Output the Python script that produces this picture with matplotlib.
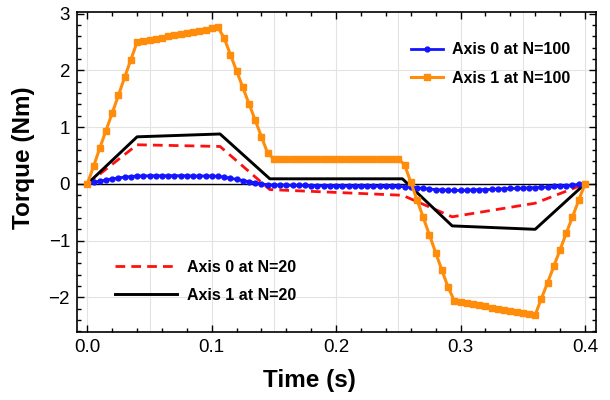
import numpy as np
import matplotlib
matplotlib.use("Agg")
import matplotlib.pyplot as plt
from matplotlib.ticker import MultipleLocator

plt.rcParams["font.family"] = ["Liberation Sans", "DejaVu Sans"]

# N=100 runs, sampled every 0.005 s
t_100 = np.linspace(0.0, 0.4, 81)
axis0_n100 = [
    0.0, 0.025, 0.05, 0.07, 0.09, 0.105, 0.12, 0.13, 0.14,
    0.14, 0.145, 0.145, 0.145, 0.145, 0.145, 0.145, 0.145, 0.14, 0.14, 0.14, 0.14, 0.135,
    0.12, 0.10, 0.08, 0.06, 0.04, 0.02, 0.0, -0.015,
    -0.02, -0.02, -0.02, -0.025, -0.025, -0.025, -0.03, -0.03, -0.03, -0.03, -0.035,
    -0.035, -0.035, -0.035, -0.04, -0.04, -0.04, -0.04, -0.045, -0.045, -0.045,
    -0.05, -0.06, -0.07, -0.08, -0.09, -0.10, -0.105, -0.11, -0.115,
    -0.115, -0.11, -0.105, -0.10, -0.10, -0.095, -0.09, -0.085, -0.08, -0.08, -0.075, -0.07, -0.065,
    -0.06, -0.055, -0.045, -0.04, -0.03, -0.02, -0.01, 0.0,
]
axis1_n100 = [
    0.0, 0.31, 0.63, 0.94, 1.25, 1.56, 1.88, 2.19, 2.50,
    2.52, 2.54, 2.56, 2.58, 2.60, 2.62, 2.64, 2.66, 2.68, 2.70, 2.72, 2.74, 2.76,
    2.57, 2.28, 1.99, 1.70, 1.41, 1.12, 0.83, 0.54,
    0.44, 0.44, 0.44, 0.44, 0.44, 0.44, 0.44, 0.44, 0.44, 0.44, 0.44,
    0.44, 0.44, 0.44, 0.44, 0.44, 0.44, 0.44, 0.44, 0.44, 0.44,
    0.34, 0.03, -0.28, -0.59, -0.90, -1.21, -1.52, -1.82, -2.06,
    -2.08, -2.10, -2.12, -2.14, -2.16, -2.18, -2.20, -2.22, -2.24, -2.26, -2.28, -2.30, -2.31,
    -2.02, -1.74, -1.45, -1.16, -0.87, -0.58, -0.29, 0.0,
]

# N=20 runs
t_20 = [0.0, 0.04, 0.1067, 0.1467, 0.2533, 0.2933, 0.36, 0.4]
axis0_n20 = [0.0, 0.69, 0.66, -0.10, -0.20, -0.58, -0.34, 0.0]
axis1_n20 = [0.0, 0.83, 0.88, 0.09, 0.09, -0.74, -0.80, 0.0]

fig = plt.figure(figsize=(6.1, 4.0), dpi=100)
ax = fig.add_axes([77 / 610, 1 - 332 / 400, 518.5 / 610, 320 / 400])

# light grid
for gx in np.arange(0.0, 0.41, 0.05):
    ax.axvline(gx, color="#e3e3e3", lw=0.8, zorder=0)
for gy in [-2, -1, 1, 2]:
    ax.axhline(gy, color="#e3e3e3", lw=0.8, zorder=0)
ax.axhline(0, color="black", lw=1.0, zorder=1.5)

l_red, = ax.plot(t_20, axis0_n20, color="#ff1010", lw=2.0, dashes=(3.5, 2.2),
                 label="Axis 0 at N=20", zorder=2)
l_blk, = ax.plot(t_20, axis1_n20, color="black", lw=2.1,
                 label="Axis 1 at N=20", zorder=2.1)
l_blue, = ax.plot(t_100, axis0_n100, color="#1414ff", lw=2.0, marker="o", ms=3.5,
                  label="Axis 0 at N=100", zorder=2.2)
l_orng, = ax.plot(t_100, axis1_n100, color="#ff8c0a", lw=2.2, marker="s", ms=4,
                  label="Axis 1 at N=100", zorder=2.3)

ax.set_xlim(-0.0083, 0.4085)
ax.set_ylim(-2.61, 3.03)
ax.xaxis.set_major_locator(MultipleLocator(0.1))
ax.xaxis.set_minor_locator(MultipleLocator(0.02))
ax.yaxis.set_major_locator(MultipleLocator(1))
ax.yaxis.set_minor_locator(MultipleLocator(0.2))
ax.xaxis.set_major_formatter(plt.FormatStrFormatter("%.1f"))
ax.tick_params(which="both", direction="in", top=True, right=True, width=1.0)
ax.tick_params(which="major", length=5, labelsize=13.5, pad=5)
ax.tick_params(which="minor", length=3)
for s in ax.spines.values():
    s.set_linewidth(1.2)

ax.set_xlabel("Time (s)", fontsize=17.5, fontweight="bold")
ax.set_ylabel("Torque (Nm)", fontsize=17.5, fontweight="bold")
ax.xaxis.set_label_coords(0.448, -0.115)
ax.yaxis.set_label_coords(-0.081, 0.545)

leg1 = ax.legend(handles=[l_blue, l_orng], loc="center left",
                 bbox_to_anchor=(0.644, 0.8375), frameon=False,
                 prop={"size": 11.5, "weight": "bold"}, handlelength=2.0,
                 handletextpad=0.6, labelspacing=0.85, borderpad=0,
                 borderaxespad=0)
ax.add_artist(leg1)
ax.legend(handles=[l_red, l_blk], loc="center left",
          bbox_to_anchor=(0.0733, 0.158), frameon=False,
          prop={"size": 11.5, "weight": "bold"}, handlelength=3.9,
          handletextpad=0.6, labelspacing=0.8, borderpad=0,
          borderaxespad=0)

fig.savefig("out.png", dpi=100)
